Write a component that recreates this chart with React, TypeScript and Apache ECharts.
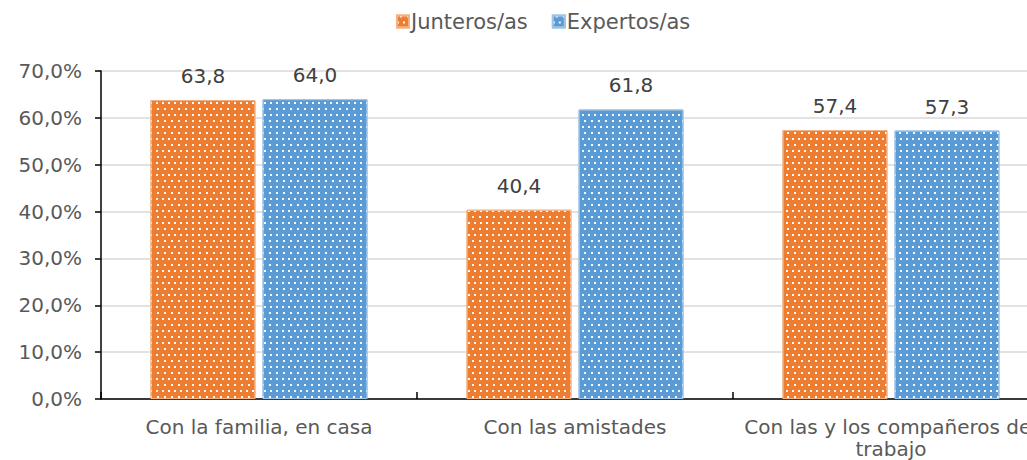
import React, { useEffect, useRef } from "react";
import * as echarts from "echarts";

const categories = ["Con la familia, en casa", "Con las amistades", "Con las y los compañeros de trabajo"];
const seriesNames = ["Junteros/as", "Expertos/as"];
const junteros = [63.8, 40.4, 57.4];
const expertos = [64.0, 61.8, 57.3];
const yTicks = { min: 0, max: 70, interval: 10 };
const colors = ["#ED7D31", "#5B9BD5"];
const borderColors = ["#F4B183", "#9DC3E6"];

const FONT = "DejaVu Sans, Verdana, sans-serif";
const FS = 20;

const fmt = (v: number) => v.toFixed(1).replace(".", ",");

const decal = {
  symbol: "rect",
  symbolSize: 1,
  color: "rgba(255,255,255,0.95)",
  dashArrayX: [[1.6, 3.7], [0, 2.65, 1.6, 1.05]],
  dashArrayY: [1.6, 3.1],
  rotation: 0,
};

export default function App() {
  const ref = useRef<HTMLDivElement>(null);
  useEffect(() => {
    if (!ref.current) return;
    const chart = echarts.init(ref.current, undefined, { renderer: "svg" });
    const mk = (name: string, data: number[], i: number) => ({
      name,
      type: "bar",
      data,
      barWidth: 105,
      barGap: "6.7%",
      itemStyle: { color: colors[i], borderColor: borderColors[i], borderWidth: 1, decal },
      label: {
        show: true,
        position: "top",
        distance: 14,
        color: "#404040",
        fontFamily: FONT,
        fontSize: FS,
        formatter: (p: any) => fmt(p.value),
      },
    });
    chart.setOption({
      animation: false,
      textStyle: { fontFamily: FONT },
      legend: {
        left: 391,
        top: 6,
        itemWidth: 12,
        itemHeight: 12,
        itemGap: 24,
        icon: "rect",
        textStyle: { color: "#595959", fontSize: 21, fontFamily: FONT, padding: [0, 0, 0, -3] },
        data: seriesNames,
      },
      grid: { left: 101, right: 31, top: 71, bottom: 60, containLabel: false },
      xAxis: {
        type: "category",
        data: categories,
        axisLine: { lineStyle: { color: "#000", width: 1.5 } },
        axisTick: { show: true, inside: true, length: 7, lineStyle: { color: "#000", width: 1.5 } },
        axisLabel: {
          color: "#595959",
          fontSize: FS,
          fontFamily: FONT,
          margin: 17,
          width: 312,
          overflow: "break",
          lineHeight: 22,
          interval: 0,
        },
      },
      yAxis: {
        type: "value",
        min: yTicks.min,
        max: yTicks.max,
        interval: yTicks.interval,
        axisLine: { show: true, lineStyle: { color: "#000", width: 1.5 } },
        axisTick: { show: true, length: 6, lineStyle: { color: "#000", width: 1.5 } },
        axisLabel: {
          color: "#595959",
          fontSize: FS,
          fontFamily: FONT,
          margin: 19,
          formatter: (v: number) => fmt(v) + "%",
        },
        splitLine: { lineStyle: { color: "#D9D9D9", width: 1.5 } },
      },
      series: [mk(seriesNames[0], junteros, 0), mk(seriesNames[1], expertos, 1)],
    });
    return () => chart.dispose();
  }, []);
  return (
    <div style={{ position: "fixed", left: 0, top: 0, width: 1027, height: 460, overflow: "hidden", background: "#fff" }}>
      <div ref={ref} style={{ width: 1080, height: 460 }} />
    </div>
  );
}
